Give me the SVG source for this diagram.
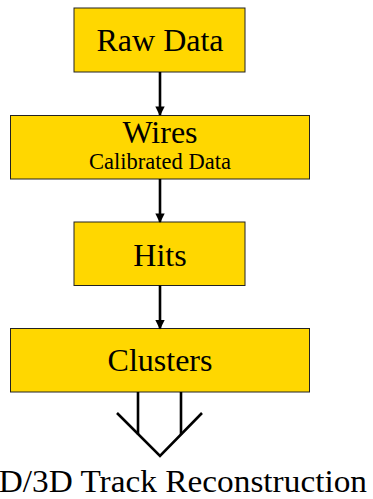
<svg xmlns="http://www.w3.org/2000/svg" width="373" height="499" viewBox="0 0 373 499">
<defs>
<style>
.box{fill:#FFD700;stroke:#222;stroke-width:1}
.t{font-family:'Liberation Serif','DejaVu Serif',serif;fill:#000;text-anchor:middle}
.big{font-size:32px}
.small{font-size:22.5px}
.edge{stroke:#000;stroke-width:2.6;fill:none}
</style>
<marker id="ah" viewBox="0 0 10 10" refX="9" refY="5" markerWidth="4.2" markerHeight="3.6" orient="auto" markerUnits="strokeWidth">
<path d="M0,0 L10,5 L0,10 Z" fill="#000"/>
</marker>
</defs>
<rect width="373" height="499" fill="#fff"/>
<g id="raw"><rect class="box" x="74" y="8" width="171" height="64"/><text class="t big" font-family="Liberation Serif, serif" x="160" y="51">Raw Data</text></g>
<g id="wires"><rect class="box" x="10.5" y="115.5" width="299" height="63.5"/><text class="t big" font-family="Liberation Serif, serif" x="160" y="143">Wires</text><text class="t small" font-family="Liberation Serif, serif" x="160" y="169">Calibrated Data</text></g>
<g id="hits"><rect class="box" x="74" y="222" width="171" height="63.5"/><text class="t big" font-family="Liberation Serif, serif" x="160" y="266">Hits</text></g>
<g id="clusters"><rect class="box" x="10.5" y="328.5" width="299" height="63.5"/><text class="t big" font-family="Liberation Serif, serif" x="160" y="371">Clusters</text></g>
<g id="connectors">
<line class="edge" x1="160" y1="72" x2="160" y2="115" marker-end="url(#ah)"/>
<line class="edge" x1="160" y1="179" x2="160" y2="222" marker-end="url(#ah)"/>
<line class="edge" x1="160" y1="285.5" x2="160" y2="328.5" marker-end="url(#ah)"/>
<line class="edge" x1="138" y1="392" x2="138" y2="434.5"/>
<line class="edge" x1="181" y1="392" x2="181" y2="434.5"/>
<polyline class="edge" points="117,413 160,456 202,413"/>
</g>
<g id="output"><text class="t big" font-family="Liberation Serif, serif" style="text-anchor:end" x="367" y="492" textLength="385" lengthAdjust="spacingAndGlyphs">2D/3D Track Reconstruction</text></g>
</svg>
